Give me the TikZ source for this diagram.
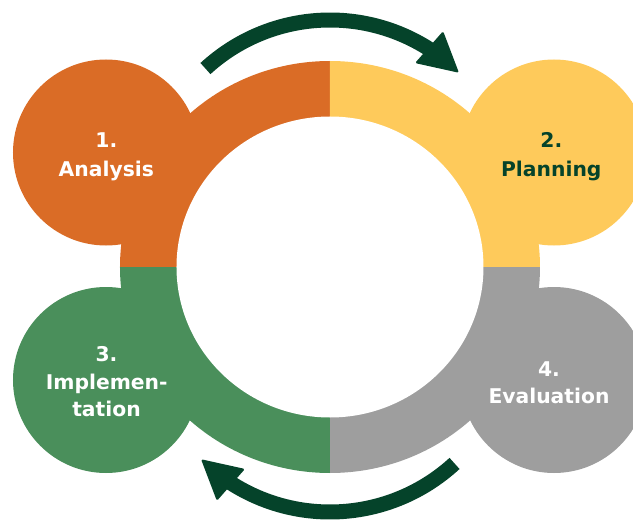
\documentclass[tikz,border=0pt]{standalone}
\usepackage{fontspec}
\setmainfont{DejaVu Sans}
\definecolor{cOrange}{HTML}{DA6C26}
\definecolor{cYellow}{HTML}{FECA5B}
\definecolor{cGreen}{HTML}{4A8F5B}
\definecolor{cGrey}{HTML}{9E9E9E}
\definecolor{cDark}{HTML}{05432A}
\begin{document}
\begin{tikzpicture}[x=1pt,y=1pt]
\tikzset{
  lbl/.style={font=\fontsize{20.3}{24}\selectfont\bfseries, anchor=base, inner sep=0pt},
  shaft/.style={line width=15pt, draw=cDark},
  headfill/.style={fill=cDark, rounded corners=1.5pt}
}
\useasboundingbox (-330,-253) rectangle (303,267);
% quadrant slices of the ring
\fill[cOrange] (0,0) -- (-210,0) arc[start angle=180,end angle=90,x radius=210,y radius=206] -- cycle;
\fill[cYellow] (0,0) -- (0,206) arc[start angle=90,end angle=0,x radius=210,y radius=206] -- cycle;
\fill[cGrey] (0,0) -- (210,0) arc[start angle=0,end angle=-90,x radius=210,y radius=206] -- cycle;
\fill[cGreen] (0,0) -- (0,-206) arc[start angle=-90,end angle=-180,x radius=210,y radius=206] -- cycle;
% bubbles
\fill[cOrange] (-224,114.5) circle[radius=93];
\fill[cYellow] (224,114.5) circle[radius=93];
\fill[cGreen] (-224,-113) circle[radius=93];
\fill[cGrey] (224,-113) circle[radius=93];
% inner hole
\fill[white] (0,0) ellipse[x radius=153.5, y radius=150.5];
% top arrow
\coordinate (tc) at (0,63);
\draw[shaft] ([shift={(tc)}]132.6:184) arc[start angle=132.6, end angle=56, radius=184];
\fill[headfill] ([shift={(tc)}]56.8:206.6) -- ([shift={(tc)}]45.5:184) -- ([shift={(tc)}]58.9:164.6) -- cycle;
% bottom arrow
\coordinate (bc) at (0,-61);
\draw[shaft] ([shift={(bc)}]312.6:184) arc[start angle=312.6, end angle=236, radius=184];
\fill[headfill] ([shift={(bc)}]236.8:206.6) -- ([shift={(bc)}]225.5:184) -- ([shift={(bc)}]238.9:164.6) -- cycle;
% labels
\node[lbl, text=white] (n1) at (-223.7,119.7) {1.};
\node[lbl, text=white] (t1) at (-223.7,90.3) {Analysis};
\node[lbl, text=cDark] (n2) at (221.3,119.7) {2.};
\node[lbl, text=cDark] (t2) at (221.3,91) {Planning};
\node[lbl, text=white] (n3) at (-223.5,-94.7) {3.};
\node[lbl, text=white] (t3a) at (-223.3,-122.3) {Implemen-};
\node[lbl, text=white] (t3b) at (-223.5,-149.7) {tation};
\node[lbl, text=white] (n4) at (219,-109.7) {4.};
\node[lbl, text=white] (t4) at (219,-136.3) {Evaluation};
\end{tikzpicture}
\end{document}
